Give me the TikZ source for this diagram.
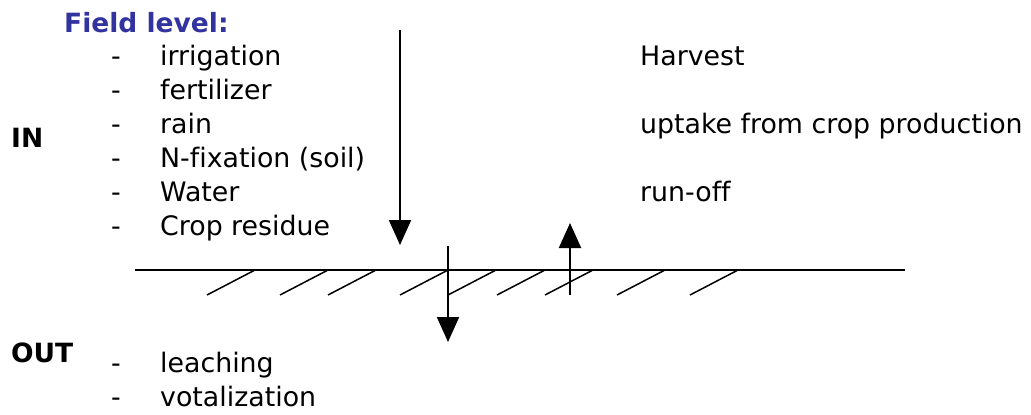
\documentclass[tikz,border=0pt]{standalone}
\usepackage{fontspec}
\setmainfont[Ligatures=NoCommon]{DejaVu Sans}
\usetikzlibrary{arrows.meta}
\definecolor{headblue}{RGB}{51,51,160}
\tikzset{
  body/.style={anchor=base west, inner sep=0pt, font=\fontsize{26.8}{32}\selectfont},
  bullet/.style={anchor=base, inner sep=0pt, font=\fontsize{26.8}{32}\selectfont},
  label/.style={anchor=base west, inner sep=0pt, font=\fontsize{26.5}{31}\selectfont\bfseries},
  flow/.style={line width=2pt, -{Triangle[length=25pt,width=22pt]}},
  ground/.style={line width=1.7pt},
  hatch/.style={line width=1.5pt}
}
\begin{document}
\begin{tikzpicture}[x=1pt,y=-1pt]
  \useasboundingbox (0,0) rectangle (1031,415);

  % heading and side labels
  \node[label, text=headblue] (title) at (64,32) {Field level:};
  \node[label] (in)  at (11,147) {IN};
  \node[label] (out) at (11,362) {OUT};

  % inputs
  \foreach \t/\yy [count=\i] in {irrigation/65, fertilizer/99, rain/133,
      N-fixation (soil)/167, Water/201, Crop residue/235}{
    \node[bullet] (d\i) at (116,\yy) {-};
    \node[body] (in\i) at (160,\yy) {\t};
  }

  % outputs above ground
  \node[body] (harvest) at (640,65)  {Harvest};
  \node[body] (uptake)  at (640,133) {uptake from crop production};
  \node[body] (runoff)  at (640,201) {run-off};

  % outputs below ground
  \node[bullet] (od1) at (116,372) {-};
  \node[body] (leach) at (160,372) {leaching};
  \node[bullet] (od2) at (116,406) {-};
  \node[body] (volat) at (160,406) {votalization};

  % soil surface with hatching
  \coordinate (gl) at (135,270);
  \coordinate (gr) at (905,270);
  \draw[ground] (gl) -- (gr);
  \foreach \x in {207,280,328,400,448,497,545,617,690}{
    \draw[hatch] (\x,295) -- ++(48,-25);
  }

  % flows
  \coordinate (inTop) at (400,30);
  \coordinate (inTip) at (400,245);
  \draw[flow] (inTop) -- (inTip);

  \coordinate (leachTop) at (448,246);
  \coordinate (leachTip) at (448,342);
  \draw[flow] (leachTop) -- (leachTip);

  \coordinate (upBase) at (570,295);
  \coordinate (upTip) at (570,223);
  \draw[flow] (upBase) -- (upTip);
\end{tikzpicture}
\end{document}
